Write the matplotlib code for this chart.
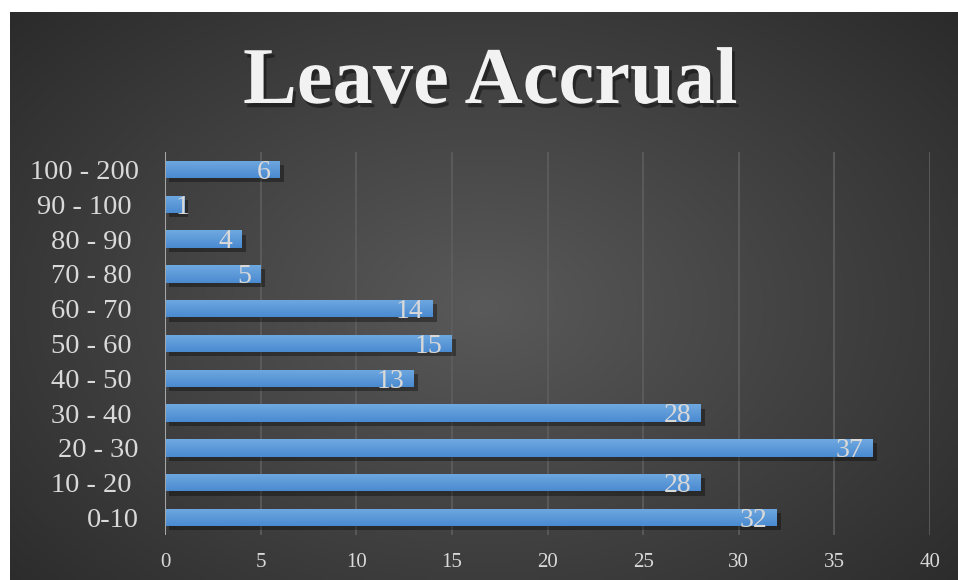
import numpy as np
import matplotlib
matplotlib.use("Agg")
import matplotlib.pyplot as plt
import matplotlib.patheffects as pe
from matplotlib.colors import LinearSegmentedColormap

# data
categories = ["0-10", "10 - 20 ", "20 - 30", "30 - 40 ", "40 - 50 ", "50 - 60 ",
              "60 - 70 ", "70 - 80 ", "80 - 90 ", "90 - 100 ", "100 - 200"]
values = [32, 28, 37, 28, 13, 15, 14, 5, 4, 1, 6]
x_ticks = [0, 5, 10, 15, 20, 25, 30, 35, 40]

FONT = "Liberation Serif"
TEXT_COLOR = "#d9d9d9"
GRID_COLOR = "#5e5e5e"
W, H = 958, 580

fig = plt.figure(figsize=(W / 100, H / 100), dpi=100)
fig.patch.set_facecolor("white")

# dark radial background
bg = fig.add_axes([10 / W, 0, (W - 10) / W, (H - 12) / H])
bg.axis("off")
gy, gx = np.mgrid[0:1:300j, 0:1:500j]
r = np.sqrt(((gx - 0.5) / 0.75) ** 2 + ((gy - 0.52) / 0.85) ** 2)
shade = np.clip(1 - r, 0, 1)
bg_cmap = LinearSegmentedColormap.from_list("bg", ["#262626", "#595959"])
bg.imshow(shade, cmap=bg_cmap, aspect="auto", extent=[0, 1, 0, 1],
          vmin=0, vmax=1, interpolation="bicubic")
bg.set_xlim(0, 1)
bg.set_ylim(0, 1)

# title
fig.text(490 / W, 1 - 103 / H, "Leave Accrual", family=FONT, weight="bold",
         fontsize=58, color="#f2f2f2", ha="center", va="baseline",
         path_effects=[pe.withSimplePatchShadow(offset=(2, -3), shadow_rgbFace="black", alpha=0.4)])

# main axes
ax = fig.add_axes([165 / W, (H - 535) / H, 765 / W, 383 / H])
ax.patch.set_alpha(0)
y = np.arange(len(categories))
bars = ax.barh(y, values, height=0.5, color="#5b9bd5", zorder=3,
               path_effects=[pe.withSimplePatchShadow(offset=(3, -3), shadow_rgbFace="black", alpha=0.35)])

bar_cmap = LinearSegmentedColormap.from_list("bar", ["#4a8ad0", "#6fa9e1"])
grad = np.linspace(0, 1, 50).reshape(-1, 1)
for b in bars:
    x0, y0 = b.get_x(), b.get_y()
    im = ax.imshow(grad, cmap=bar_cmap, aspect="auto", origin="lower",
                   extent=[x0, x0 + b.get_width(), y0, y0 + b.get_height()], zorder=4)
    im.set_clip_path(b)

for yi, v in zip(y, values):
    ax.text(max(v - 0.5, 1.3), yi - 0.08, str(v), family=FONT, fontsize=20,
            color=TEXT_COLOR, ha="right", va="center", zorder=5)

ax.set_xlim(0, 40)
ax.set_ylim(-0.5, len(categories) - 0.5)
ax.set_xticks(x_ticks)
ax.set_yticks(y)
ax.set_yticklabels(categories)
ax.grid(axis="x", color=GRID_COLOR, linewidth=1.2, zorder=0)
ax.axvline(0, color="#a6a6a6", linewidth=1.5, zorder=6)
for s in ax.spines.values():
    s.set_visible(False)
ax.tick_params(length=0)
ax.tick_params(axis="x", pad=13, labelsize=15, labelcolor=TEXT_COLOR)
ax.tick_params(axis="y", pad=19, labelsize=20.5, labelcolor=TEXT_COLOR)
for lab in ax.get_xticklabels() + ax.get_yticklabels():
    lab.set_family(FONT)

fig.savefig("out.png", dpi=100, facecolor=fig.get_facecolor())
